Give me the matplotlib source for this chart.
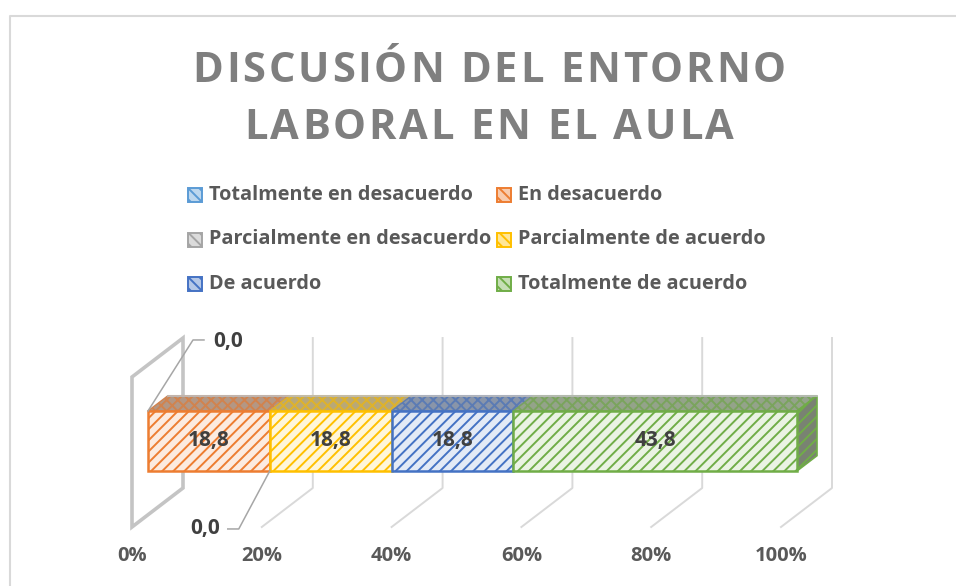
import numpy as np
import matplotlib
matplotlib.use("Agg")
import matplotlib.pyplot as plt
from matplotlib.patches import Polygon, Rectangle
from matplotlib.colors import to_rgb

SERIES = ["Totalmente en desacuerdo", "En desacuerdo", "Parcialmente en desacuerdo",
          "Parcialmente de acuerdo", "De acuerdo", "Totalmente de acuerdo"]
VALUES = [0.0, 18.8, 0.0, 18.8, 18.8, 43.8]
COLORS = ["#5B9BD5", "#ED7D31", "#A5A5A5", "#FFC000", "#4472C4", "#70AD47"]
TICKS = [0, 20, 40, 60, 80, 100]
TICK_LABELS = ["0%", "20%", "40%", "60%", "80%", "100%"]
TITLE_LINES = ["DISCUSIÓN DEL ENTORNO", "LABORAL EN EL AULA"]

plt.rcParams["font.family"] = ["Open Sans", "DejaVu Sans"]
plt.rcParams["hatch.linewidth"] = 1.4

W, H = 956, 586
X0, PX = 132.0, 6.49          # pixel of 0% on the front floor edge, pixels per percent
FLOOR = H - 527                # floor front edge, in pixels from bottom
DX, DY = 51 / PX, 39.0         # depth offset of the back wall
WALL_H = 150.0
D0, D1 = 16 / 51, 36 / 51      # bar front/back depth
H0, H1 = 43.8, 103.8           # bar bottom/top height above floor

fig = plt.figure(figsize=(W / 100, H / 100), dpi=100)
ax = fig.add_axes([0, 0, 1, 1])
ax.set_xlim(-X0 / PX, (W - X0) / PX)
ax.set_ylim(0, H)
ax.axis("off")


def proj(pct, d, h):
    return (pct + d * DX, FLOOR + d * DY + h)


def px(xp, yp):
    # pixel (from top-left) -> data coords
    return ((xp - X0) / PX, H - yp)


def mix(c, other, t):
    a, b = np.array(to_rgb(c)), np.array(to_rgb(other))
    return tuple(a * (1 - t) + b * t)


def face(pts, fc, ec, hatch, lw=1.5, z=3):
    ax.add_patch(Polygon(pts, closed=True, facecolor=fc, edgecolor=ec,
                         hatch=hatch, lw=lw, zorder=z))


# outer frame
fx, fy = zip(px(10, 586), px(10, 16), px(956, 16))
ax.plot(fx, fy, color="#d9d9d9", lw=1.5, clip_on=False, zorder=0)

# left wall + gridlines
wall = [proj(0, 0, 0), proj(0, 1, 0), proj(0, 1, WALL_H), proj(0, 0, WALL_H)]
ax.add_patch(Polygon(wall, closed=True, fill=False, edgecolor="#c4c4c4", lw=2.6, zorder=1))
for t in TICKS[1:]:
    gx, gy = zip(proj(t, 0, 0), proj(t, 1, 0), proj(t, 1, WALL_H))
    ax.plot(gx, gy, color="#d9d9d9", lw=1.4, zorder=1)

# tick labels
for t, lab in zip(TICKS, TICK_LABELS):
    x, y = proj(t, 0, 0)
    ax.text(x, y - 29, lab, ha="center", va="center", fontsize=14.5,
            fontweight="bold", color="#595959")

# bars (100% stacked)
share = np.array(VALUES) / sum(VALUES) * 100
left = np.concatenate([[0], np.cumsum(share)[:-1]])
for i, (v, c) in enumerate(zip(share, COLORS)):
    if v <= 0:
        continue
    a, b = left[i], left[i] + v
    top = [proj(a, D0, H1), proj(b, D0, H1), proj(b, D1, H1), proj(a, D1, H1)]
    face(top, mix(c, "#a0a0a0", 0.75), mix(c, "#909090", 0.3), "xxx", lw=1.0, z=3)
    front = [proj(a, D0, H0), proj(b, D0, H0), proj(b, D0, H1), proj(a, D0, H1)]
    face(front, mix(c, "white", 0.85), c, "///", lw=1.8, z=4)
    if i == len(VALUES) - 1:
        side = [proj(b, D0, H0), proj(b, D1, H0), proj(b, D1, H1), proj(b, D0, H1)]
        face(side, mix(c, "#7a7a7a", 0.85), c, "///", lw=1.2, z=3)
# grey back edge of the top faces
bx, by = zip(proj(0, D1, H1), proj(100, D1, H1))
ax.plot(bx, by, color="#bfbfbf", lw=1.2, zorder=3.5)

# data labels
for i, val in enumerate(VALUES):
    txt = f"{val:.1f}".replace(".", ",")
    if val > 0:
        x, y = proj(left[i] + share[i] / 2, D0, (H0 + H1) / 2)
        ax.text(x, y, txt, ha="center", va="center", fontsize=15,
                fontweight="bold", color="#404040", zorder=6)

# zero labels with leader lines (offsets in pixels)
ZERO_LEADER = {0: ((0, 0), (45, 71), (56, 71)), 2: ((0, 0), (-31, -58), (-42, -58))}
ZERO_TEXT = {0: ((65, 69), "left"), 2: ((-50, -58), "right")}
for i, val in enumerate(VALUES):
    if val > 0 or i not in ZERO_LEADER:
        continue
    ax_, ay_ = proj(left[i], D0, H1 if i == 0 else H0)
    lx = [ax_ + dx / PX for dx, dy in ZERO_LEADER[i]]
    ly = [ay_ + dy for dx, dy in ZERO_LEADER[i]]
    ax.plot(lx, ly, color="#a6a6a6", lw=1.1, zorder=5)
    (tx, ty), ha = ZERO_TEXT[i]
    ax.text(ax_ + tx / PX, ay_ + ty, f"{val:.1f}".replace(".", ","), ha=ha, va="center",
            fontsize=15, fontweight="bold", color="#404040")

# legend (row-major, 2 columns)
LEG_X = [188, 497]
LEG_Y = [195, 239.5, 284]
for i, (lab, c) in enumerate(zip(SERIES, COLORS)):
    row, col = divmod(i, 2)
    x0, yc = LEG_X[col], LEG_Y[row]
    (rx, ry) = px(x0, yc + 7)
    ax.add_patch(Rectangle((rx, ry), 14 / PX, 14, facecolor=mix(c, "white", 0.6),
                           edgecolor=c, hatch="\\\\\\", lw=1.4))
    tx, ty = px(x0 + 21, yc)
    ax.text(tx, ty, lab, ha="left", va="center", fontsize=14.3, fontweight="bold",
            color="#595959")

# title with letter spacing
renderer = fig.canvas.get_renderer()
TITLE_FS = 30
TITLE_BASE = [82, 139]
TITLE_CX = 489


def char_widths(s):
    ws = []
    for ch in s:
        if ch == " ":
            ws.append(None)
            continue
        t = ax.text(0, 0, ch, fontsize=TITLE_FS, fontweight="bold")
        ws.append(t.get_window_extent(renderer).width)
        t.remove()
    return ws


space_w = 0.26 * TITLE_FS * 100 / 72
w1 = char_widths(TITLE_LINES[0])
ink = sum(w if w is not None else space_w for w in w1)
track = (593 - ink) / (len(TITLE_LINES[0]) - 1)
for line, base in zip(TITLE_LINES, TITLE_BASE):
    ws = char_widths(line)
    adv = [(w if w is not None else space_w) + track for w in ws]
    total = sum(adv) - track
    x = TITLE_CX - total / 2
    for ch, w, a in zip(line, ws, adv):
        if w is not None:
            tx, ty = px(x, base)
            ax.text(tx, ty, ch, ha="left", va="baseline", fontsize=TITLE_FS,
                    fontweight="bold", color="#7f7f7f")
        x += a

fig.savefig("out.png", dpi=100)
